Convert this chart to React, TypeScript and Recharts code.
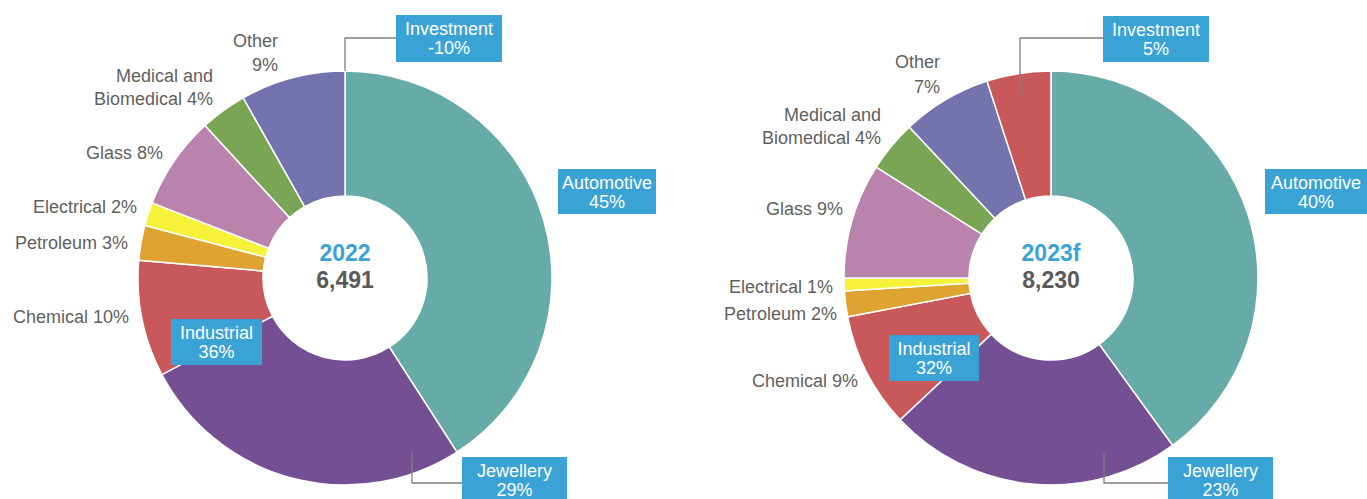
import {PieChart, Pie, Cell} from 'recharts';

// demand by end use, share of total (%)
const categories = ['Automotive', 'Jewellery', 'Chemical', 'Petroleum', 'Electrical', 'Glass', 'Medical and Biomedical', 'Other', 'Investment'];
const share2022 = [45, 29, 10, 3, 2, 8, 4, 9, -10];
const share2023 = [40, 23, 9, 2, 1, 9, 4, 7, 5];
const industrial2022 = 36;
const industrial2023 = 32;
const years = ['2022', '2023f'];
const totals = ['6,491', '8,230'];

const colors: Record<string, string> = {
    Automotive: '#66aba8',
    Jewellery: '#744f93',
    Chemical: '#c9585b',
    Petroleum: '#dea330',
    Electrical: '#f6f23a',
    Glass: '#b983ad',
    'Medical and Biomedical': '#7aa555',
    Other: '#7473ad',
    Investment: '#c9585b',
};

const BOX = '#3aa3d6';
const GREY = '#5f5f5f';
const FONT = '"Liberation Sans", Arial, sans-serif';

const toData = (vals: number[]) =>
    categories.map((name, i) => ({name, value: vals[i]})).filter(d => d.value > 0);

const pct = (v: number) => `${v}%`;

// label placement (text only)
type Plain = {lines: string[]; x: number; y: number[]};
type Boxed = {lines: string[]; x: number; y: number; w: number; h: number};

const plainLeft = (v: number[]): Plain[] => [
    {lines: ['Other', pct(v[7])], x: 278, y: [41, 65]},
    {lines: ['Medical and', `Biomedical ${pct(v[6])}`], x: 213, y: [76, 99]},
    {lines: [`Glass ${pct(v[5])}`], x: 163, y: [153]},
    {lines: [`Electrical ${pct(v[4])}`], x: 137, y: [207]},
    {lines: [`Petroleum ${pct(v[3])}`], x: 128, y: [243]},
    {lines: [`Chemical ${pct(v[2])}`], x: 129, y: [317]},
];

const plainRight = (v: number[]): Plain[] => [
    {lines: ['Other', pct(v[7])], x: 940, y: [62, 87]},
    {lines: ['Medical and', `Biomedical ${pct(v[6])}`], x: 881, y: [115, 138]},
    {lines: [`Glass ${pct(v[5])}`], x: 843, y: [209]},
    {lines: [`Electrical ${pct(v[4])}`], x: 833, y: [287]},
    {lines: [`Petroleum ${pct(v[3])}`], x: 837, y: [314]},
    {lines: [`Chemical ${pct(v[2])}`], x: 858, y: [381]},
];

const boxedLeft = (v: number[], ind: number): Boxed[] => [
    {lines: ['Investment', pct(v[8])], x: 396, y: 15, w: 106, h: 47},
    {lines: ['Automotive', pct(v[0])], x: 558, y: 169, w: 98, h: 45},
    {lines: ['Jewellery', pct(v[1])], x: 462, y: 457, w: 105, h: 46},
    {lines: ['Industrial', pct(ind)], x: 171, y: 319, w: 91, h: 46},
];

const boxedRight = (v: number[], ind: number): Boxed[] => [
    {lines: ['Investment', pct(v[8])], x: 1103, y: 16, w: 106, h: 46},
    {lines: ['Automotive', pct(v[0])], x: 1265, y: 169, w: 102, h: 45},
    {lines: ['Jewellery', pct(v[1])], x: 1168, y: 457, w: 105, h: 46},
    {lines: ['Industrial', pct(ind)], x: 889, y: 335, w: 90, h: 46},
];

const leaders = [
    '345,71 345,38 396,38',
    '412,453 412,483 462,483',
    '1020,95 1020,38 1103,38',
    '1104,453 1104,483 1168,483',
];

const charts = [
    {cx: 345, data: toData(share2022), plain: plainLeft(share2022), boxed: boxedLeft(share2022, industrial2022)},
    {cx: 1051, data: toData(share2023), plain: plainRight(share2023), boxed: boxedRight(share2023, industrial2023)},
];

export default function App() {
    return (
        <div style={{position: 'absolute', left: 0, top: 0, width: 1367, height: 499, background: '#fff', fontFamily: FONT}}>
            <PieChart width={1367} height={499} margin={{top: 0, right: 0, bottom: 0, left: 0}}>
                {charts.map((c, k) => (
                    <Pie
                        key={k}
                        data={c.data}
                        dataKey="value"
                        nameKey="name"
                        cx={c.cx}
                        cy={278}
                        innerRadius={82}
                        outerRadius={207}
                        startAngle={90}
                        endAngle={-270}
                        stroke="#fff"
                        strokeWidth={1.5}
                        isAnimationActive={false}
                    >
                        {c.data.map(d => (
                            <Cell key={d.name} fill={colors[d.name]}/>
                        ))}
                    </Pie>
                ))}
            </PieChart>

            <svg width={1367} height={499} style={{position: 'absolute', left: 0, top: 0, pointerEvents: 'none'}}>
                {leaders.map((p, i) => (
                    <polyline key={i} points={p} fill="none" stroke="#7f7f7f" strokeWidth={1.3}/>
                ))}
                {charts.map((c, k) => (
                    <g key={k} fontFamily={FONT}>
                        {c.plain.map((l, i) => (
                            <text key={i} fill={GREY} fontSize={18} textAnchor="end">
                                {l.lines.map((s, j) => (
                                    <tspan key={j} x={l.x} y={l.y[j]} dy="0.35em">{s}</tspan>
                                ))}
                            </text>
                        ))}
                        {c.boxed.map((b, i) => (
                            <g key={i}>
                                <rect x={b.x} y={b.y} width={b.w} height={b.h} fill={BOX}/>
                                <text fill="#fff" fontSize={18} textAnchor="middle">
                                    {b.lines.map((s, j) => (
                                        <tspan key={j} x={b.x + b.w / 2} y={b.y + 14 + j * 19} dy="0.35em">{s}</tspan>
                                    ))}
                                </text>
                            </g>
                        ))}
                        <text x={c.cx} y={253} dy="0.35em" textAnchor="middle" fontSize={23} fontWeight="bold" fill={BOX}>{years[k]}</text>
                        <text x={c.cx} y={280} dy="0.35em" textAnchor="middle" fontSize={23} fontWeight="bold" fill="#595959">{totals[k]}</text>
                    </g>
                ))}
            </svg>
        </div>
    );
}
